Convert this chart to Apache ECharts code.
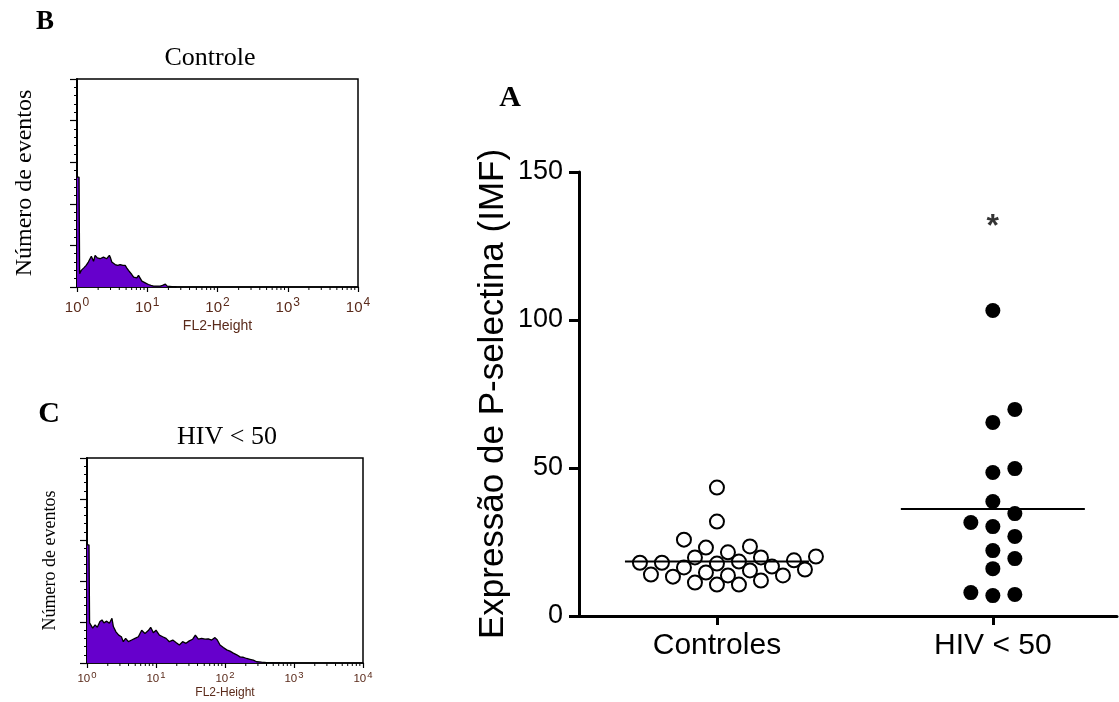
<!DOCTYPE html>
<html>
<head>
<meta charset="utf-8">
<script src="https://cdn.jsdelivr.net/npm/echarts@6/dist/echarts.min.js"></script>
<style>
html, body { margin: 0; padding: 0; background: #fff; }
#chart { width: 1119px; height: 702px; }
</style>
</head>
<body>
<div id="chart"></div>
<script>
// Panel A data: P-selectin expression (IMF) per subject
var groups = ['Controles', 'HIV < 50'];
var controles = [43.4, 31.9, 25.8, 23.5, 23.1, 21.5, 18.0, 19.8, 18.8, 18.4, 18.0, 19.8, 20.1, 17.7,
    16.7, 15.7, 14.7, 15.4, 16.4, 13.7, 13.3, 14.0, 13.7, 11.3, 10.6, 10.6, 12.0];
var hiv = [103.2, 69.8, 65.4, 49.8, 48.5, 38.7, 34.6, 31.6, 30.2, 26.9, 22.1, 19.4, 16.0, 7.9, 6.9, 7.3];
var sigLabel = '*';
var sigValue = 131.5;

// Panel B histogram (Controle): FL2 channel and event counts
var channelsB = [1, 1.07, 1.09, 1.11, 1.15, 1.25, 1.35, 1.45, 1.53, 1.6, 1.66, 1.72, 1.81, 1.95, 2.13, 2.38,
    2.65, 2.89, 3.0, 3.13, 3.49, 3.8, 4.11, 4.5, 4.85, 5.1, 5.41, 6.03, 6.4, 6.75, 7.1, 7.51, 7.94,
    8.39, 9.35, 10.4, 11.3, 12.3, 13.8, 15.3, 16.5, 18.1, 19.2, 20.5, 22.5, 24, 26];
var countsB = [132, 132, 16, 18, 20, 23, 26, 30, 31, 37, 38, 31, 38, 35, 34, 36,
    34, 38, 35, 30, 27, 26, 27, 26, 26, 23, 20, 15, 12, 10, 11, 14, 15,
    7, 5, 3, 2, 1, 1, 1, 2, 3.5, 1, 1.5, 0.5, 1, 0];

// Panel C histogram (HIV < 50)
var channelsC = [1, 1.07, 1.09, 1.12, 1.21, 1.31, 1.41, 1.54, 1.65, 1.76, 1.93, 2.11, 2.3, 2.41, 2.63, 2.88,
    3.15, 3.36, 3.63, 3.98, 4.44, 4.96, 5.55, 6.2, 6.92, 7.74, 8.37, 9.15, 10, 11.2, 12.5, 14, 15.6,
    17.5, 19.5, 21.8, 24.3, 27.2, 30.4, 34, 37.2, 41.1, 45.9, 51.3, 57.3, 64.1, 71.6, 77.4, 84.7,
    94.6, 106, 118, 132, 148, 165, 184, 206, 230, 257, 288, 339, 402, 500, 627];
var countsC = [144, 144, 49, 47.5, 42.5, 46.5, 43.5, 50.5, 52.5, 49, 51, 48.5, 54.5, 44.5, 38, 34,
    32, 26, 30, 26, 28, 30, 32, 40, 36, 39.5, 43.5, 37, 40, 34, 32, 30, 26,
    28, 25, 22, 26, 24, 27, 29, 34, 29, 30, 29, 29.5, 28, 31, 28, 22,
    19, 16, 14.5, 12, 10, 7.5, 7, 5.5, 4.5, 3.5, 1.5, 1, 0.5, 0.5, 0];

// minor tick values of the log axes (2..9 in each decade)
var minorTicks = [];
[1, 10, 100, 1000].forEach(function (d) {
    for (var k = 2; k <= 9; k++) minorTicks.push(k * d);
});

var sans = 'Liberation Sans, Arial, sans-serif';
var serif = 'Liberation Serif, Times New Roman, serif';
var brown = '#5a2a1a';
var purple = '#6600cc';

// geometry of panel A, used for the dot arrangement
var gridA = { left: 579, top: 172, width: 538, height: 444 };
var xMaxA = 3.9, yMaxA = 150;
var pxX = gridA.width / xMaxA, pxY = gridA.height / yMaxA;

// simple beeswarm: put each dot in the nearest free column
function swarmSlots(values, diam, step) {
    var order = values.map(function (v, i) { return i; })
        .sort(function (a, b) { return values[a] - values[b]; });
    var placed = [], slots = [];
    order.forEach(function (i) {
        var y = values[i] * pxY;
        for (var k = 0; k < 60; k++) {
            var s = k === 0 ? 0 : (k % 2 ? (k + 1) / 2 : -k / 2);
            var free = placed.every(function (p) {
                var dx = (p.s - s) * step, dy = p.y - y;
                return dx * dx + dy * dy >= diam * diam;
            });
            if (free) { placed.push({ s: s, y: y }); slots[i] = s; break; }
        }
    });
    return slots;
}

function groupPos(g) { return g * 2 + 1; }

function dots(values, g, diam, step) {
    var slots = swarmSlots(values, diam, step);
    return values.map(function (v, i) {
        return [groupPos(g) + slots[i] * step / pxX, v];
    });
}

function mean(values) {
    return values.reduce(function (a, b) { return a + b; }, 0) / values.length;
}

function meanLine(values, g) {
    var half = 92 / pxX, m = mean(values);
    return [[groupPos(g) - half, m], [groupPos(g) + half, m]];
}

function pairs(xs, ys) {
    return xs.map(function (x, i) { return [x, ys[i]]; });
}

function histX(gi, labelSize, supSize, margin, nameSize, nameGap) {
    return {
        type: 'log', logBase: 10, min: 1, max: 10000, gridIndex: gi,
        name: 'FL2-Height', nameLocation: 'middle', nameGap: nameGap,
        nameTextStyle: { fontFamily: sans, fontSize: nameSize, color: brown },
        axisLine: { lineStyle: { color: '#000', width: 1.5 } },
        axisTick: { show: true, length: 5, lineStyle: { color: '#000', width: 1.2 } },
        minorTick: { show: false },
        axisLabel: {
            margin: margin,
            formatter: function (v) {
                return '{b|10}{s|' + Math.round(Math.log(v) / Math.LN10) + '}';
            },
            rich: {
                b: { fontFamily: sans, fontSize: labelSize, color: brown },
                s: { fontFamily: sans, fontSize: supSize, color: brown, padding: [0, 0, supSize * 0.8, 1] }
            }
        },
        splitLine: { show: false }
    };
}

function histY(gi, nameSize, nameGap) {
    return {
        type: 'value', min: 0, max: 250, interval: 50, gridIndex: gi,
        name: 'Número de eventos', nameLocation: 'middle', nameGap: nameGap,
        nameTextStyle: { fontFamily: serif, fontSize: nameSize, color: '#000' },
        axisLine: { show: true, lineStyle: { color: '#000', width: 2 } },
        axisTick: { show: true, length: 7, lineStyle: { color: '#000', width: 1.2 } },
        minorTick: { show: true, splitNumber: 5, length: 3, lineStyle: { color: '#000', width: 1 } },
        axisLabel: { show: false },
        splitLine: { show: false }
    };
}

function histSeries(gi, xs, ys) {
    return {
        type: 'line', xAxisIndex: gi, yAxisIndex: gi,
        data: pairs(xs, ys),
        symbol: 'none', showSymbol: false,
        lineStyle: { color: '#000', width: 1.3 },
        areaStyle: { color: purple, opacity: 1 },
        silent: true
    };
}

// short marks under the log axis at 2..9 of each decade
function minorTickSeries(gi) {
    return {
        type: 'custom', xAxisIndex: gi, yAxisIndex: gi, clip: false, silent: true,
        data: minorTicks.map(function (v) { return [v, 0]; }),
        renderItem: function (params, api) {
            var p = api.coord([api.value(0), 0]);
            return {
                type: 'line',
                shape: { x1: p[0], y1: p[1], x2: p[0], y2: p[1] + 3 },
                style: { stroke: '#000', lineWidth: 1 }
            };
        }
    };
}

function label(text, x, y, font) {
    return {
        type: 'text', x: x, y: y,
        style: { text: text, font: font, fill: '#000', textAlign: 'center', textVerticalAlign: 'middle' }
    };
}

var chart = echarts.init(document.getElementById('chart'));

var option = {
    backgroundColor: '#fff',
    animation: false,
    grid: [
        { left: 77, top: 79, width: 281, height: 208, show: true, borderColor: '#000', borderWidth: 1.5, outerBoundsMode: 'none' },
        { left: 87, top: 458, width: 276, height: 205, show: true, borderColor: '#000', borderWidth: 1.5, outerBoundsMode: 'none' },
        { left: gridA.left, top: gridA.top, width: gridA.width, height: gridA.height, outerBoundsMode: 'none' }
    ],
    xAxis: [
        histX(0, 15, 12, 10, 14, 32),
        histX(1, 11.5, 9.5, 7, 12, 24),
        {
            type: 'value', gridIndex: 2, min: 0, max: xMaxA,
            axisLine: { show: true, onZero: false, lineStyle: { color: '#000', width: 3 } },
            axisTick: { show: true, customValues: [groupPos(0), groupPos(1)], length: 9, lineStyle: { color: '#000', width: 3 } },
            axisLabel: {
                customValues: [groupPos(0), groupPos(1)],
                formatter: function (v) { return groups[(v - 1) / 2]; },
                fontFamily: sans, fontSize: 30, color: '#000', margin: 15
            },
            splitLine: { show: false }
        }
    ],
    yAxis: [
        histY(0, 24, 40),
        histY(1, 18, 28),
        {
            type: 'value', gridIndex: 2, min: 0, max: yMaxA, interval: 50,
            name: 'Expressão de P-selectina (IMF)', nameLocation: 'middle', nameGap: 68, nameRotate: 90,
            nameTextStyle: { fontFamily: sans, fontSize: 35, color: '#000' },
            axisLine: { show: true, lineStyle: { color: '#000', width: 3 } },
            axisTick: { show: true, length: 10, lineStyle: { color: '#000', width: 3 } },
            axisLabel: { fontFamily: sans, fontSize: 27, color: '#000', margin: 16 },
            splitLine: { show: false }
        }
    ],
    series: [
        histSeries(0, channelsB, countsB),
        histSeries(1, channelsC, countsC),
        minorTickSeries(0),
        minorTickSeries(1),
        {
            type: 'scatter', xAxisIndex: 2, yAxisIndex: 2,
            data: dots(controles, 0, 14, 11),
            symbol: 'circle', symbolSize: 14,
            itemStyle: { color: '#fff', borderColor: '#000', borderWidth: 2, opacity: 1 },
            z: 2
        },
        {
            type: 'scatter', xAxisIndex: 2, yAxisIndex: 2,
            data: dots(hiv, 1, 15, 22),
            symbol: 'circle', symbolSize: 15,
            itemStyle: { color: '#000', opacity: 1 },
            z: 2
        },
        {
            type: 'line', xAxisIndex: 2, yAxisIndex: 2, data: meanLine(controles, 0),
            symbol: 'none', lineStyle: { color: '#000', width: 2 }, z: 3
        },
        {
            type: 'line', xAxisIndex: 2, yAxisIndex: 2, data: meanLine(hiv, 1),
            symbol: 'none', lineStyle: { color: '#000', width: 2 }, z: 3
        },
        {
            type: 'scatter', xAxisIndex: 2, yAxisIndex: 2,
            data: [[groupPos(1), sigValue]],
            symbolSize: 1, itemStyle: { color: 'transparent' },
            label: {
                show: true, position: 'inside', formatter: sigLabel,
                fontFamily: sans, fontSize: 32, fontWeight: 'bold', color: '#000'
            }
        }
    ],
    graphic: [
        label('B', 45, 22, 'bold 27px ' + serif),
        label('C', 49, 414, 'bold 30px ' + serif),
        label('A', 510, 98, 'bold 30px ' + serif),
        label('Controle', 210, 58, '26px ' + serif),
        label('HIV < 50', 227, 437, '26px ' + serif)
    ]
};

chart.setOption(option);
</script>
</body>
</html>
